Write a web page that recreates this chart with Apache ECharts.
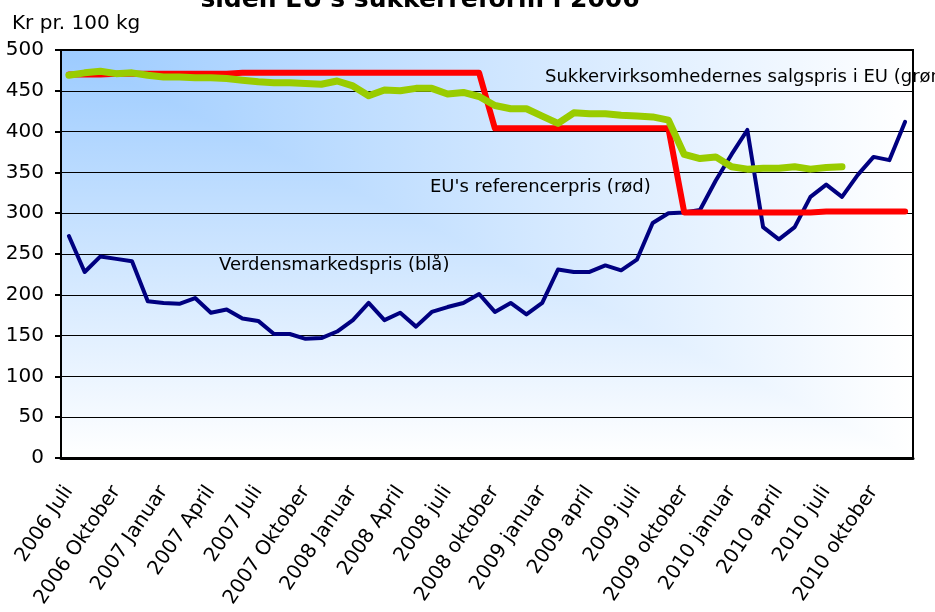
<!DOCTYPE html>
<html>
<head>
<meta charset="utf-8">
<script src="https://cdn.jsdelivr.net/npm/echarts@6/dist/echarts.min.js"></script>
<style>
html,body{margin:0;padding:0;background:#fff;}
#chart{width:935px;height:612px;}
</style>
</head>
<body>
<div id="chart"></div>
<script>
// maaneder (juli 2006 - december 2010)
var months = [
    '2006 Juli','2006 August','2006 September','2006 Oktober','2006 November','2006 December',
    '2007 Januar','2007 Februar','2007 Marts','2007 April','2007 Maj','2007 Juni',
    '2007 Juli','2007 August','2007 September','2007 Oktober','2007 November','2007 December',
    '2008 Januar','2008 Februar','2008 Marts','2008 April','2008 maj','2008 juni',
    '2008 juli','2008 august','2008 september','2008 oktober','2008 november','2008 december',
    '2009 januar','2009 februar','2009 marts','2009 april','2009 maj','2009 juni',
    '2009 juli','2009 august','2009 september','2009 oktober','2009 november','2009 december',
    '2010 januar','2010 februar','2010 marts','2010 april','2010 maj','2010 juni',
    '2010 juli','2010 august','2010 september','2010 oktober','2010 november','2010 december'
];
// verdensmarkedspris (blaa)
var worldPrice = [272,228,247,244,241,192,190,189,196,178,182,171,168,152,152,146,147,155,
    169,190,169,178,161,179,185,190,201,179,190,176,190,231,228,228,236,230,
    243,288,300,301,304,340,372,402,283,268,283,320,335,320,347,369,365,412];
// EU's referencepris (roed)
var refPrice = [470,470,470,471,471,471,471,471,471,471,471,472,472,472,472,472,472,472,
    472,472,472,472,472,472,472,472,472,404,404,404,404,404,404,404,404,404,
    404,404,404,301,301,301,301,301,301,301,301,301,302,302,302,302,302,302];
// sukkervirksomhedernes salgspris (groen)
var euSalesPrice = [469,472,474,471,472,469,467,467,466,466,465,463,461,460,460,459,458,462,
    456,444,451,450,453,453,446,448,443,432,428,428,419,410,423,422,422,420,
    419,418,414,372,367,369,357,354,355,355,357,354,356,357,null,null,null,null];

var FONT = '"DejaVu Sans", sans-serif';

// baggrund: gradient fra hjoernet (blaa oeverst til venstre)
function makeBackground(gx, gy, gw, gh) {
    var cv = document.createElement('canvas');
    cv.width = 935; cv.height = 612;
    var ctx = cv.getContext('2d');
    var c0 = '#9ccbff', c1 = '#ffffff';
    var gV = ctx.createLinearGradient(0, gy, 0, gy + gh);
    gV.addColorStop(0, c0); gV.addColorStop(1, c1);
    ctx.fillStyle = gV;
    ctx.fillRect(gx, gy, gw, gh);
    var gH = ctx.createLinearGradient(gx, 0, gx + gw, 0);
    gH.addColorStop(0, c0); gH.addColorStop(1, c1);
    ctx.beginPath();
    ctx.moveTo(gx, gy); ctx.lineTo(gx + gw, gy); ctx.lineTo(gx + gw, gy + gh); ctx.closePath();
    ctx.fillStyle = gH; ctx.fill();
    return cv;
}

var bg = makeBackground(61, 50, 852, 408);

var chart = echarts.init(document.getElementById('chart'));
var option = {
    animation: false,
    grid: {
        left: 61, right: 22, top: 50, bottom: 154,
        show: true,
        borderColor: '#000',
        borderWidth: 2,
        backgroundColor: {image: bg, repeat: 'no-repeat'}
    },
    graphic: [
        {type: 'text', style: {
            x: 420, y: 13, text: "siden EU's sukkerreform i 2006", fill: '#000',
            font: 'bold 25px ' + FONT, textAlign: 'center', textVerticalAlign: 'bottom'}},
        {type: 'text', style: {x: 12, y: 34, text: 'Kr pr. 100 kg', fill: '#000',
            font: '20px ' + FONT, textVerticalAlign: 'bottom'}},
        {type: 'text', z: 10, style: {x: 545, y: 86, text: 'Sukkervirksomhedernes salgspris i EU (grøn)',
            fill: '#000', font: '18px ' + FONT, textVerticalAlign: 'bottom'}},
        {type: 'text', z: 10, style: {x: 430, y: 196, text: "EU's referencerpris (rød)",
            fill: '#000', font: '18px ' + FONT, textVerticalAlign: 'bottom'}},
        {type: 'text', z: 10, style: {x: 219, y: 274, text: 'Verdensmarkedspris (blå)',
            fill: '#000', font: '18px ' + FONT, textVerticalAlign: 'bottom'}}
    ],
    xAxis: {
        type: 'category',
        data: months,
        boundaryGap: true,
        axisLine: {lineStyle: {color: '#000', width: 3}},
        axisTick: {interval: 2, length: 6, lineStyle: {color: '#000', width: 2}},
        axisLabel: {
            interval: 2, rotate: 56, margin: 30,
            color: '#000', fontSize: 20, fontFamily: FONT
        },
        splitLine: {show: false}
    },
    yAxis: {
        type: 'value',
        min: 0, max: 500, interval: 50,
        axisLine: {show: true, lineStyle: {color: '#000', width: 2}},
        axisTick: {show: true, length: 6, lineStyle: {color: '#000', width: 2}},
        axisLabel: {color: '#000', fontSize: 20, fontFamily: FONT, margin: 17},
        splitLine: {lineStyle: {color: '#000', width: 1}}
    },
    series: [
        {name: 'Verdensmarkedspris', type: 'line', data: worldPrice, symbol: 'none',
            lineStyle: {color: '#000080', width: 4, cap: 'round', join: 'round'}, z: 3},
        {name: "EU's referencepris", type: 'line', data: refPrice, symbol: 'none',
            lineStyle: {color: '#ff0000', width: 6, cap: 'round', join: 'round'}, z: 4},
        {name: 'Sukkervirksomhedernes salgspris', type: 'line', data: euSalesPrice, symbol: 'none',
            lineStyle: {color: '#99cc00', width: 7, cap: 'round', join: 'round'}, z: 5}
    ]
};
chart.setOption(option);
</script>
</body>
</html>
